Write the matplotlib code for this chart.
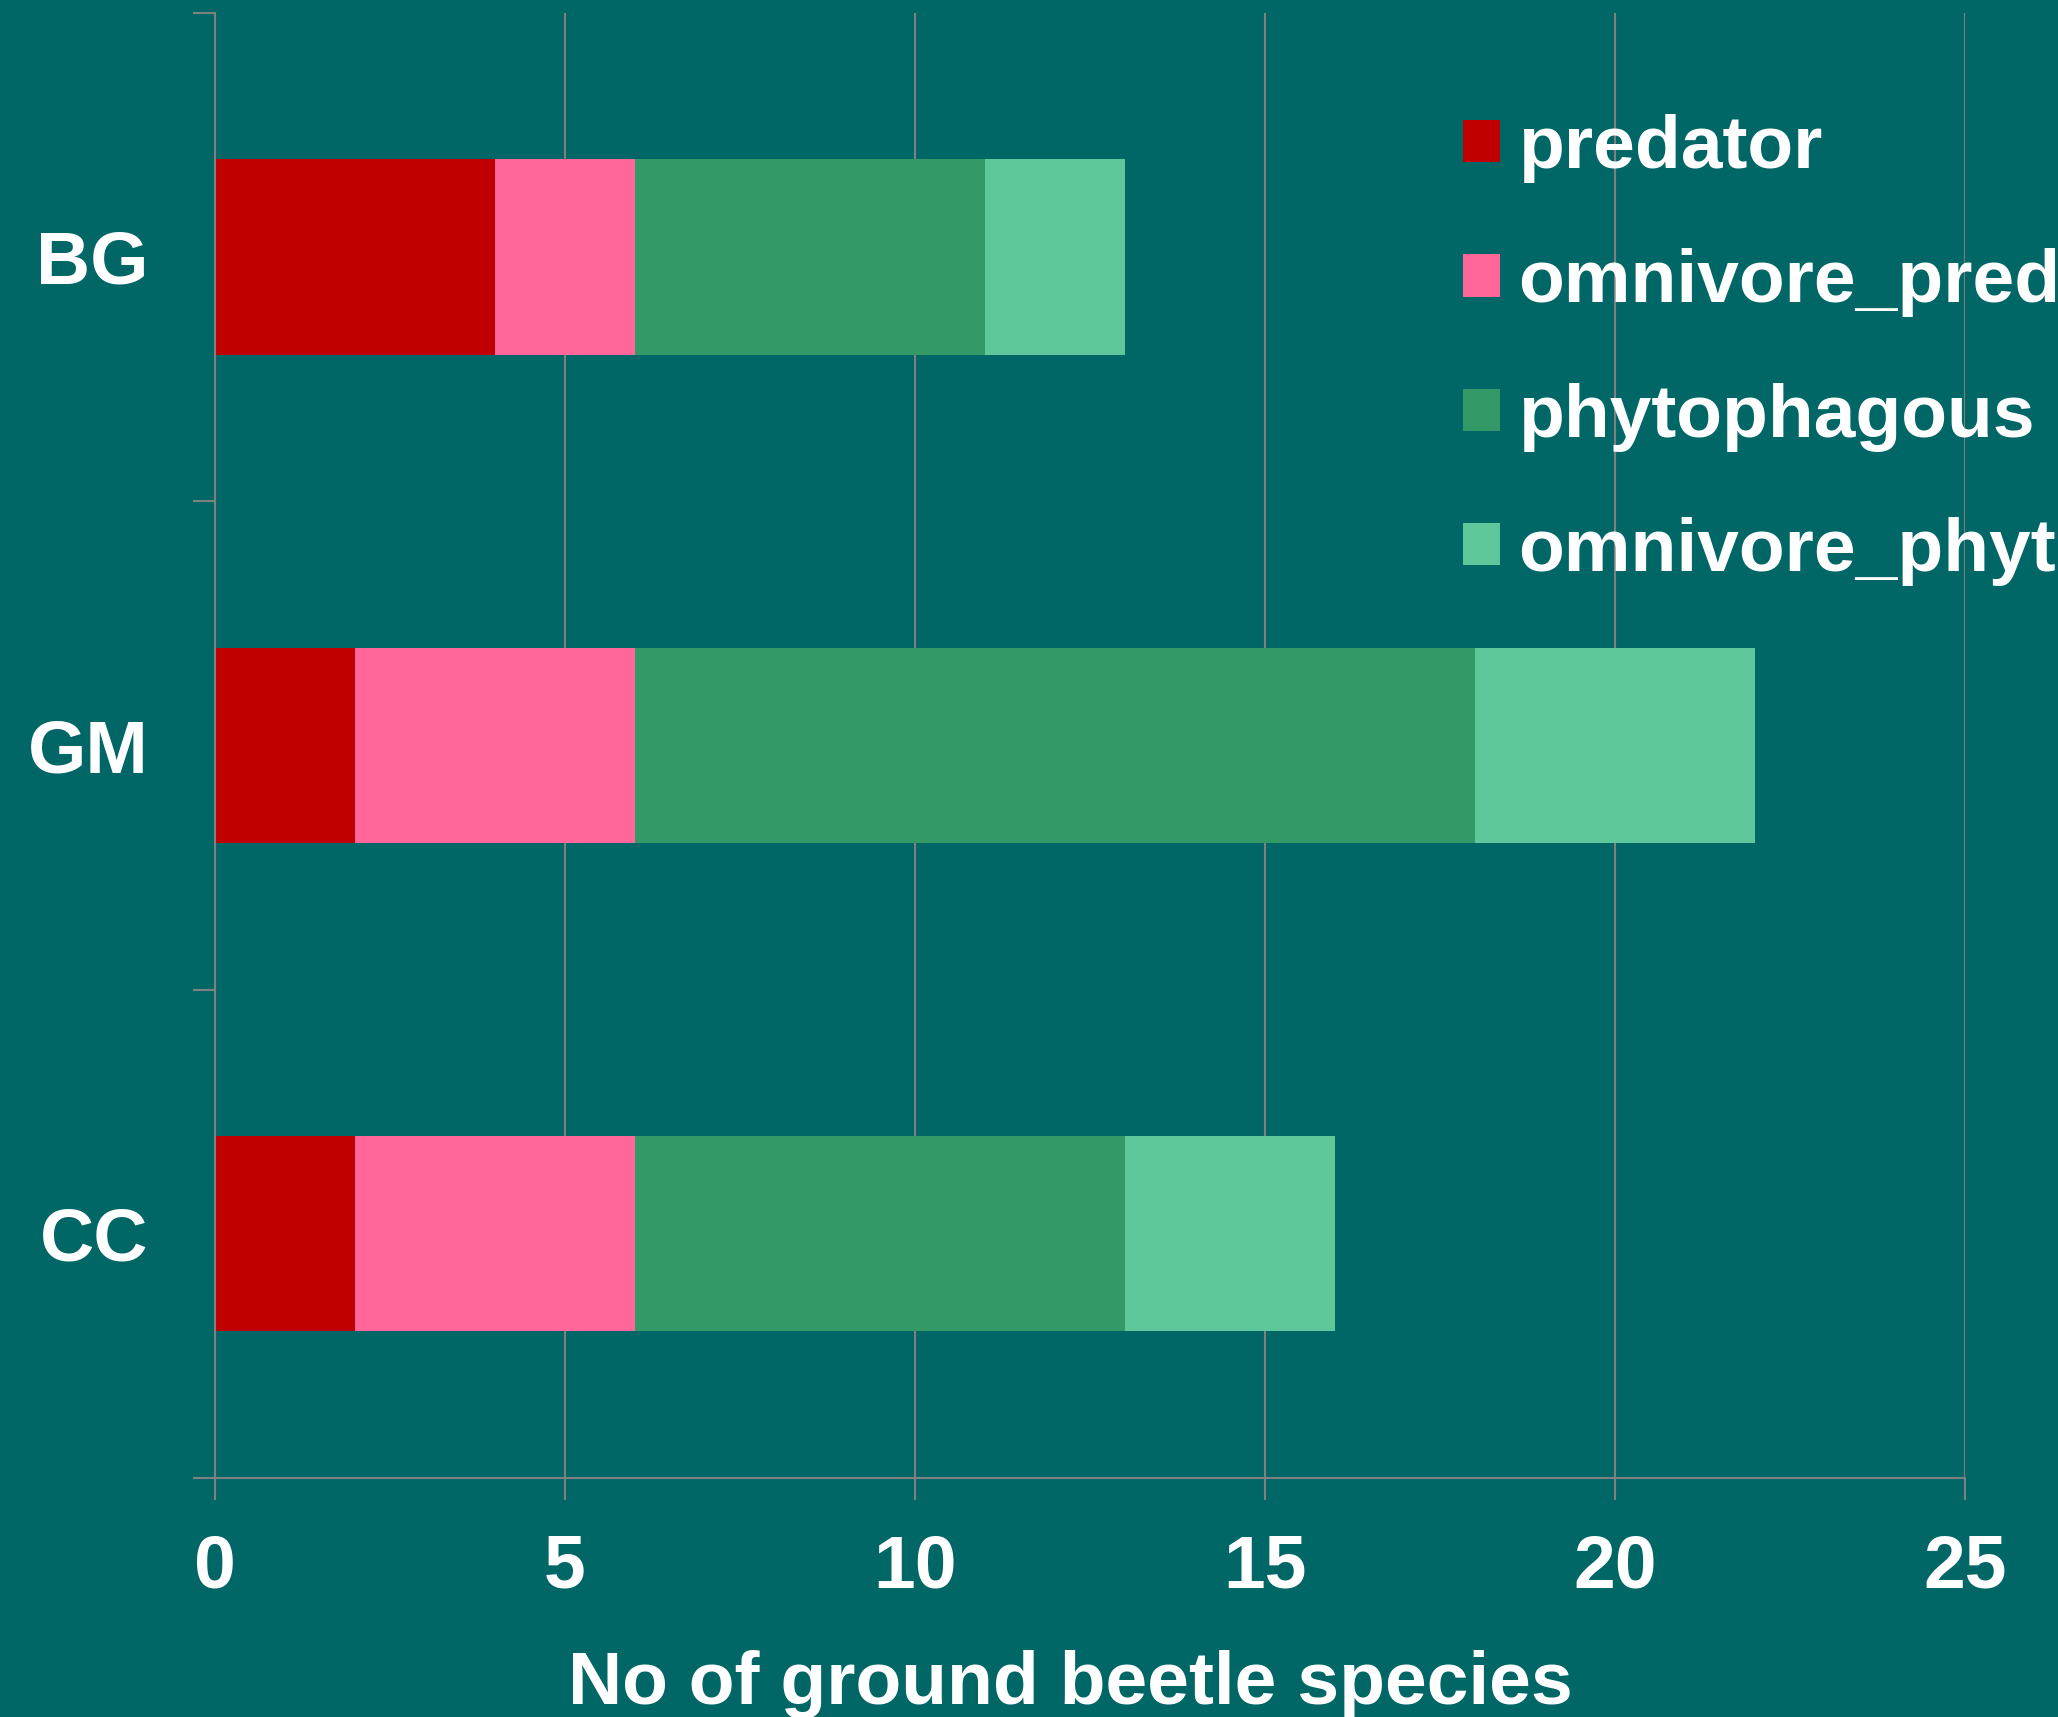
import numpy as np
import matplotlib
matplotlib.use("Agg")
from matplotlib import pyplot as plt
from matplotlib.patches import Patch

# data
sites = ["BG", "GM", "CC"]
groups = ["predator", "omnivore_pred", "phytophagous", "omnivore_phyt"]
predator = [4, 2, 2]
omnivore_pred = [2, 4, 4]
phytophagous = [5, 12, 7]
omnivore_phyt = [2, 4, 3]
colors = ["#C00000", "#FF6699", "#339966", "#5FC89A"]

bg = "#006666"
grey = "#808080"
fs = 54

plt.rcParams["font.family"] = ["Liberation Sans", "DejaVu Sans"]
plt.rcParams["font.weight"] = "bold"

fig = plt.figure(figsize=(20.58, 17.17), dpi=100, facecolor=bg)
ax = fig.add_axes([0.1045, 0.1392, 0.8503, 0.8534], facecolor=bg)

y = np.arange(len(sites))
left = np.zeros(len(sites))
for vals, name, c in zip([predator, omnivore_pred, phytophagous, omnivore_phyt], groups, colors):
    ax.barh(y, vals, height=0.4, left=left, color=c, label=name, zorder=2)
    left = left + np.array(vals)

ax.set_xlim(0, 25)
ax.set_ylim(2.5, -0.5)
ax.set_xticks(np.arange(0, 26, 5))
ax.set_yticks(y)
ax.set_yticklabels(sites)
ax.set_yticks(np.arange(-0.5, 3, 1), minor=True)

ax.grid(axis="x", color=grey, linewidth=1.5, zorder=0)
for s in ["top", "right"]:
    ax.spines[s].set_visible(False)
for s in ["left", "bottom"]:
    ax.spines[s].set_color(grey)
    ax.spines[s].set_linewidth(1.5)

ax.tick_params(axis="x", length=16, width=1.5, color=grey, labelcolor="white",
               labelsize=fs, pad=24)
ax.tick_params(axis="y", which="major", length=0, labelcolor="white", labelsize=fs, pad=48)
ax.tick_params(axis="y", which="minor", length=16, width=1.5, color=grey)
for t in ax.get_xticklabels() + ax.get_yticklabels():
    t.set_fontweight("bold")

ax.set_xlabel("No of ground beetle species", color="white", fontsize=fs, fontweight="bold")
ax.xaxis.set_label_coords(0.4886, -0.1175)

handles = [Patch(facecolor=c) for c in colors]
leg = ax.legend(handles, groups, loc="upper left", bbox_to_anchor=(1463 / 2058, 1 - 114 / 1717),
                bbox_transform=fig.transFigure, frameon=False, fontsize=fs,
                handlelength=0.49, handleheight=0.49, handletextpad=0.25,
                labelspacing=0.87, borderpad=0, borderaxespad=0)
for t in leg.get_texts():
    t.set_color("white")
    t.set_fontweight("bold")

fig.savefig("out.png", dpi=100, facecolor=bg)
